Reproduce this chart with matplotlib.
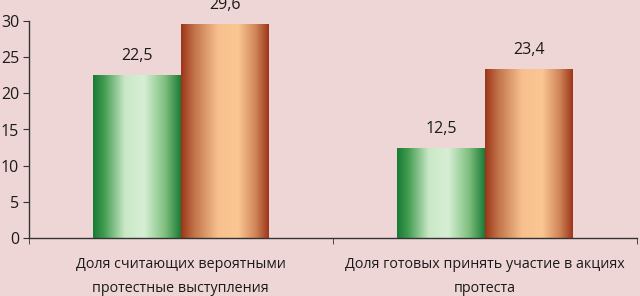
import numpy as np
import matplotlib.pyplot as plt
from matplotlib.colors import LinearSegmentedColormap

categories = ["Доля считающих вероятными\nпротестные выступления",
              "Доля готовых принять участие в акциях\nпротеста"]
series_a = [22.5, 12.5]
series_b = [29.6, 23.4]
labels_a = ["22,5", "12,5"]
labels_b = ["29,6", "23,4"]

bg = "#efd6d6"
fam = ['Open Sans', 'DejaVu Sans']
green = LinearSegmentedColormap.from_list("g", [
    (0.0, "#187a34"), (0.12, "#3f9a4e"), (0.36, "#c9e8c6"),
    (0.58, "#d7efd5"), (0.82, "#7fc07f"), (1.0, "#1b7a36")])
orange = LinearSegmentedColormap.from_list("o", [
    (0.0, "#9c3518"), (0.15, "#c2734a"), (0.42, "#f8c08e"),
    (0.65, "#fac792"), (0.85, "#cf8558"), (1.0, "#9e3719")])

fig = plt.figure(figsize=(6.4, 2.96), dpi=100, facecolor=bg)
ax = fig.add_axes([0.045, 0.196, 0.95, 0.733])
ax.set_facecolor(bg)
plt.rcParams['font.family'] = fam

x = np.arange(len(categories))
w = 0.288
grad = np.linspace(0, 1, 256).reshape(1, -1)

for vals, labs, cmap, off in [(series_a, labels_a, green, -w / 2),
                               (series_b, labels_b, orange, w / 2)]:
    bars = ax.bar(x + off, vals, w, color="none", edgecolor="none")
    for b, v, t in zip(bars, vals, labs):
        x0 = b.get_x()
        im = ax.imshow(grad, cmap=cmap, aspect="auto",
                       extent=[x0, x0 + w, 0, v], zorder=2)
        im.set_clip_path(b)
        ax.text(x0 + w / 2, v + 1.5, t, ha="center", va="bottom",
                fontsize=11.5, color="#1a1a1a", family=fam)

ax.set_xlim(-0.5, 1.5)
ax.set_ylim(0, 30)
ax.set_yticks(range(0, 31, 5))
ax.set_xticks(x)
ax.set_xticklabels(categories, fontsize=10.3, family=fam,
                   color="#1a1a1a", linespacing=1.75)
ax.set_xticks([-0.5, 0.5, 1.5], minor=True)
ax.tick_params(axis="x", which="major", length=0, pad=14)
ax.tick_params(axis="x", which="minor", length=4, direction="out", color="#333333")
ax.tick_params(axis="y", length=4, pad=3, labelsize=11.5, color="#333333", labelcolor="#1a1a1a")
for lab in ax.get_yticklabels():
    lab.set_family(fam)

for s in ["top", "right"]:
    ax.spines[s].set_visible(False)
for s in ["left", "bottom"]:
    ax.spines[s].set_color("#333333")
    ax.spines[s].set_linewidth(1.0)

fig.savefig("out.png", dpi=100, facecolor=bg)
